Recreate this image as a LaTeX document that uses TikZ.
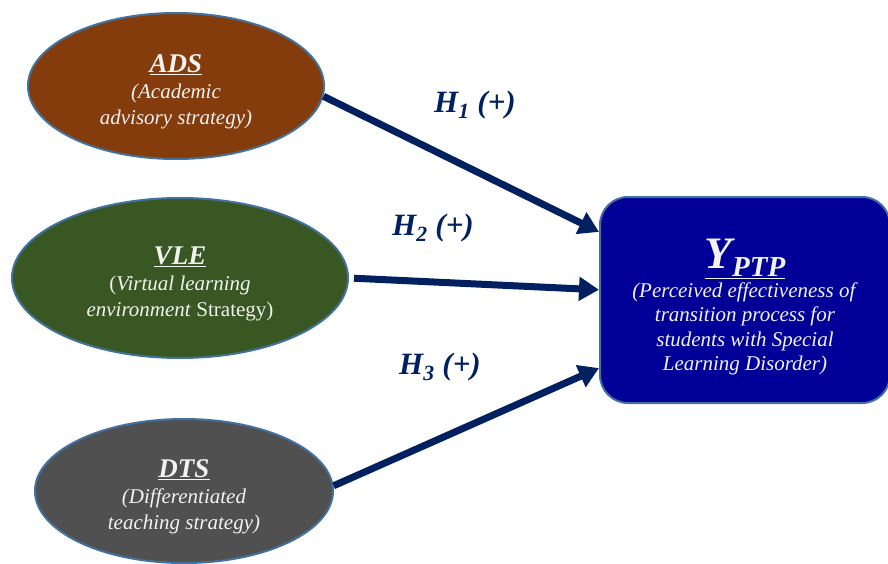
\documentclass[tikz,border=0pt]{standalone}
\usepackage{fontspec}
\setmainfont{Liberation Serif}
\usepackage{tikz}
\usetikzlibrary{positioning,shapes.geometric,arrows.meta}
\definecolor{adsbrown}{RGB}{132,60,12}
\definecolor{vlegreen}{RGB}{56,87,35}
\definecolor{dtsgray}{RGB}{80,80,80}
\definecolor{ptpblue}{RGB}{0,0,153}
\definecolor{edgeblue}{RGB}{65,113,156}
\definecolor{arrownavy}{RGB}{0,32,96}
\definecolor{softwhite}{RGB}{242,242,242}
\newcommand{\vartitle}[1]{{\fontsize{27}{27}\selectfont\rule{0pt}{29pt}\underline{\textbf{\textit{#1}}}}}

\begin{document}
\begin{tikzpicture}[x=1pt,y=-1pt,
  strategy/.style={ellipse,draw=edgeblue,line width=2pt,text=softwhite,align=center,
    inner sep=0pt,font=\fontsize{21}{26}\selectfont},
  outcome/.style={rectangle,rounded corners=28pt,draw=edgeblue,line width=2pt,fill=ptpblue,
    text=softwhite,align=center,inner sep=0pt,minimum width=290pt,minimum height=206pt,
    font=\fontsize{21}{24.5}\selectfont},
  hyp/.style={draw=arrownavy,line width=7pt,-{Triangle[length=20pt,width=23pt]}},
  hlabel/.style={text=arrownavy,font=\fontsize{31}{32}\selectfont\bfseries\itshape}]
\useasboundingbox (0,0) rectangle (888,564);

\node[strategy,fill=adsbrown,minimum width=296pt,minimum height=146pt] (ads) at (176,86)
  {\vartitle{ADS}\\ \textit{(Academic}\\ \textit{advisory strategy)}};
\node[strategy,fill=vlegreen,minimum width=336pt,minimum height=160pt] (vle) at (180,278)
  {\vartitle{VLE}\\ (\textit{Virtual learning}\\ \textit{environment} Strategy)};
\node[strategy,fill=dtsgray,minimum width=298pt,minimum height=144pt] (dts) at (184,491)
  {\vartitle{DTS}\\ \textit{(Differentiated}\\ \textit{teaching strategy)}};

\node[outcome] (ptp) at (745,300)
  {\rule{0pt}{44pt}{\fontsize{45}{45}\selectfont\underline{\textbf{\textit{Y\raisebox{-8pt}{\fontsize{29}{29}\selectfont PTP}}}}}\\[3pt]
   \textit{(Perceived effectiveness of}\\ \textit{transition process for}\\
   \textit{students with Special}\\ \textit{Learning Disorder)}};

\draw[hyp] (ads.-4) -- (ptp.155);
\draw[hyp,shorten <=5pt] (vle.east) -- (ptp.176);
\draw[hyp] (dts.2) -- (ptp.205);

\node[hlabel] (h1) at (475,105) {H\textsubscript{1} (+)};
\node[hlabel] (h2) at (433,228) {H\textsubscript{2} (+)};
\node[hlabel] (h3) at (440,367) {H\textsubscript{3} (+)};
\end{tikzpicture}
\end{document}
